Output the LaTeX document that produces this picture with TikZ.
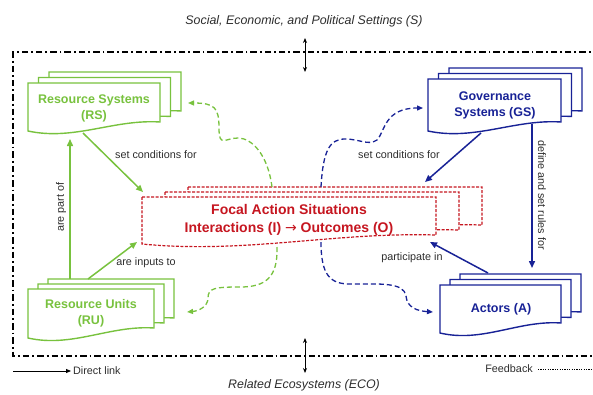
\documentclass[tikz,border=0pt]{standalone}
\usepackage{fontspec}
\setmainfont{Liberation Sans}
\newfontfamily\arrfont{DejaVu Sans}
\usetikzlibrary{arrows.meta}
\definecolor{cgreen}{RGB}{120,194,62}
\definecolor{cblue}{RGB}{24,34,150}
\definecolor{cred}{RGB}{198,22,32}
\definecolor{clbl}{RGB}{45,45,45}
% document-shaped box: x y w hLeft hRight style
\newcommand{\docbox}[6]{\filldraw[#6] ({#1},{#2}) -- ({#1+#3},{#2}) -- ({#1+#3},{#2+#5}) .. controls ({#1+0.65*#3},{#2+#5-3}) and ({#1+0.35*#3},{#2+#4+10}) .. ({#1},{#2+#4}) -- cycle;}
% stack of three: x y w hL hR dx dy style
\newcommand{\docstack}[8]{\foreach \k in {2,1,0}{\docbox{#1+\k*#6}{#2-\k*#7}{#3}{#4}{#5}{#8}}}
\tikzset{
  border/.style={line width=2pt, dash pattern=on 6.5pt off 3pt on 1.8pt off 3pt},
  gbox/.style={draw=cgreen, fill=white, line width=1.4pt},
  bbox/.style={draw=cblue, fill=white, line width=1.4pt},
  rbox/.style={draw=cred, fill=white, line width=1.2pt, dash pattern=on 3pt off 1.5pt},
  garr/.style={draw=cgreen, line width=1.5pt, -{Triangle[length=7pt,width=6pt]}},
  barr/.style={draw=cblue, line width=1.5pt, -{Triangle[length=7pt,width=6pt]}},
  gfb/.style={draw=cgreen, line width=1.3pt, dash pattern=on 5pt off 3pt, -{Triangle[length=6pt,width=5pt]}},
  bfb/.style={draw=cblue, line width=1.3pt, dash pattern=on 5pt off 3pt, -{Triangle[length=6pt,width=5pt]}},
  dbl/.style={draw=black, line width=0.8pt, {Stealth[length=5pt,width=4pt]}-{Stealth[length=5pt,width=4pt]}},
  gtitle/.style={text=cgreen, align=center, font=\bfseries\fontsize{12.5}{16}\selectfont, inner sep=0pt},
  btitle/.style={text=cblue, align=center, font=\bfseries\fontsize{12.5}{15.5}\selectfont, inner sep=0pt},
  rtitle/.style={text=cred, align=center, font=\bfseries\fontsize{14}{18}\selectfont, inner sep=0pt},
  lbl/.style={text=clbl, font=\fontsize{10.8}{12}\selectfont, inner sep=0pt},
  ital/.style={text=clbl, font=\itshape\fontsize{12.4}{14}\selectfont, inner sep=0pt},
}
\begin{document}
\begin{tikzpicture}[x=1pt,y=-1pt]
\useasboundingbox (0,0) rectangle (593,394);
% outer frame
\draw[border] (600,52) -- (13,52) -- (13,356) -- (600,356);
% settings texts and double arrows
\node[ital] (soc) at (304,21) {Social, Economic, and Political Settings (S)};
\node[ital] (eco) at (304,385) {Related Ecosystems (ECO)};
\coordinate (s-top) at (305,38); \coordinate (s-bot) at (305,72);
\coordinate (e-top) at (305,338); \coordinate (e-bot) at (305,373);
\draw[dbl] (s-top) -- (s-bot);
\draw[dbl] (e-top) -- (e-bot);
% stacks
\docstack{28}{83}{132}{48}{39}{10.5}{5.5}{gbox}
\docstack{28}{289}{126}{49}{39}{10}{5}{gbox}
\docstack{428}{79}{133}{52}{43}{10.5}{5.5}{bbox}
\docstack{440}{285}{121}{48}{38}{10}{5.5}{bbox}
\docstack{142}{197}{294}{47}{38}{23}{5}{rbox}
% titles
\node[gtitle] (rs) at (94,108) {Resource Systems\\(RS)};
\node[gtitle] (ru) at (91,313) {Resource Units\\(RU)};
\node[btitle] (gs) at (495,105.5) {Governance\\Systems (GS)};
\node[btitle] (ac) at (501,309) {Actors (A)};
\node[rtitle] (fas) at (289,220) {Focal Action Situations\\Interactions (I) {\arrfont\mdseries →} Outcomes (O)};
% anchor points
\coordinate (rs-s) at (83,133);
\coordinate (rs-s2) at (70,139);
\coordinate (rs-e) at (188,103);
\coordinate (ru-n) at (70,279);
\coordinate (ru-n2) at (88,279);
\coordinate (ru-e) at (187,312);
\coordinate (gs-s) at (481,133);
\coordinate (gs-s2) at (532,124);
\coordinate (gs-w) at (423,108);
\coordinate (ac-n) at (532,268);
\coordinate (ac-n2) at (488,273);
\coordinate (ac-w) at (433,312);
\coordinate (fas-nw) at (143,192);
\coordinate (fas-sw) at (137,242);
\coordinate (fas-ne) at (425,182);
\coordinate (fas-se) at (430,242);
\coordinate (fas-n1) at (272,187);
\coordinate (fas-n2) at (321,187);
\coordinate (fas-s1) at (277,247);
\coordinate (fas-s2) at (321,242);
% direct links
\draw[garr] (rs-s) -- (fas-nw);
\draw[garr] (ru-n) -- (rs-s2);
\draw[garr] (ru-n2) -- (fas-sw);
\draw[barr] (gs-s) -- (fas-ne);
\draw[barr] (gs-s2) -- (ac-n);
\draw[barr] (ac-n2) -- (fas-se);
% feedback
\draw[gfb] (fas-n1) .. controls (268,155) and (252,138) .. (238,138) .. controls (225,138) and (219,148) .. (219,128) .. controls (219,108) and (215,103) .. (rs-e);
\draw[gfb] (fas-s1) .. controls (278,278) and (265,287) .. (240,287) .. controls (215,287) and (208,288) .. (208,298) .. controls (208,307) and (198,311) .. (ru-e);
\draw[bfb] (fas-n2) .. controls (323,150) and (330,139) .. (345,139) .. controls (360,139) and (368,146) .. (377,140) .. controls (385,132) and (384,108) .. (gs-w);
\draw[bfb] (fas-s2) .. controls (321,275) and (330,284) .. (350,284) .. controls (380,284) and (404,282) .. (406,296) .. controls (407,308) and (418,311) .. (ac-w);
% labels
\node[lbl] (l1) at (156,155) {set conditions for};
\node[lbl, rotate=90] (l2) at (61,207) {are part of};
\node[lbl] (l3) at (146,263) {are inputs to};
\node[lbl] (l4) at (399,155) {set conditions for};
\node[lbl, rotate=-90] (l5) at (542,195) {define and set rules for};
\node[lbl] (l6) at (412,258) {participate in};
% legend
\coordinate (dl-a) at (13,371); \coordinate (dl-b) at (71,371);
\draw[line width=0.8pt, -{Triangle[length=5pt,width=4pt]}] (dl-a) -- (dl-b);
\node[lbl, anchor=west] (dl) at (73,371) {Direct link};
\node[lbl, anchor=east] (fb) at (533,369) {Feedback};
\coordinate (fb-a) at (538,369); \coordinate (fb-b) at (600,369);
\draw[line width=0.7pt, dash pattern=on 1.2pt off 1.2pt] (fb-a) -- (fb-b);
\end{tikzpicture}
\end{document}
